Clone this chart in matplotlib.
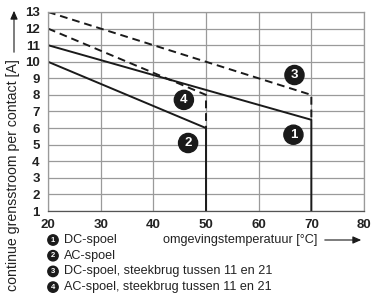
import matplotlib
matplotlib.use("Agg")
import matplotlib.pyplot as plt

plt.rcParams['font.family'] = ['Liberation Sans', 'DejaVu Sans']

# --- data ---
temp_dc = [20, 70, 70]
stroom_dc = [11, 6.5, 1]
temp_ac = [20, 50, 50]
stroom_ac = [10, 6, 1]
temp_dc_brug = [20, 70, 70]
stroom_dc_brug = [13, 8, 6.5]
temp_ac_brug = [20, 50, 50]
stroom_ac_brug = [12, 8, 6]

curve_ids = ['1', '2', '3', '4']
label_x = [66.6, 46.6, 66.8, 45.8]
label_y = [5.6, 5.1, 9.2, 7.7]
legend_labels = ['DC-spoel', 'AC-spoel',
                 'DC-spoel, steekbrug tussen 11 en 21',
                 'AC-spoel, steekbrug tussen 11 en 21']

xticks = [20, 30, 40, 50, 60, 70, 80]
yticks = list(range(1, 14))

W, H = 372, 300
fig = plt.figure(figsize=(W / 100, H / 100), dpi=100)
ax = fig.add_axes([48 / W, (H - 211) / H, (364 - 48) / W, (211 - 12) / H])

ink = '#1a1a1a'
ax.plot(temp_dc, stroom_dc, color=ink, lw=1.4)
ax.plot(temp_ac, stroom_ac, color=ink, lw=1.4)
ax.plot(temp_dc_brug, stroom_dc_brug, color=ink, lw=1.4, dashes=(4, 2.5))
ax.plot(temp_ac_brug, stroom_ac_brug, color=ink, lw=1.4, dashes=(4, 2.5))

for cid, x, y in zip(curve_ids, label_x, label_y):
    ax.text(x, y, cid, ha='center', va='center', color='white', fontsize=9.5,
            fontweight='bold', zorder=5,
            bbox=dict(boxstyle='circle,pad=0.27', fc=ink, ec=ink))

ax.set_xlim(20, 80)
ax.set_ylim(1, 13)
ax.set_xticks(xticks)
ax.set_yticks(yticks)
ax.tick_params(length=0, labelsize=9.5, pad=6)
for lab in ax.get_xticklabels() + ax.get_yticklabels():
    lab.set_fontweight('bold')
    lab.set_color('#222222')
ax.grid(True, color='#9a9a9a', lw=0.9)
for s in ax.spines.values():
    s.set_color('#9a9a9a')
    s.set_linewidth(0.9)
ax.spines['bottom'].set_color('#555555')

# legend with filled circled numbers
for i, (cid, txt) in enumerate(zip(curve_ids, legend_labels)):
    yy = 1 - (240 + i * 15.7) / H
    fig.text(53 / W, yy, cid, ha='center', va='center', color='white',
             fontsize=5.5, fontweight='bold',
             bbox=dict(boxstyle='circle,pad=0.22', fc=ink, ec=ink))
    fig.text(64 / W, yy, txt, ha='left', va='center', fontsize=9.1, color='#222222')

# axis titles with arrows
fig.text(163 / W, 1 - 240 / H, 'omgevingstemperatuur [°C]', ha='left', va='center',
         fontsize=9.1, color='#222222')
fig.add_artist(matplotlib.patches.FancyArrowPatch(
    (322 / W, 1 - 240 / H), (364 / W, 1 - 240 / H), transform=fig.transFigure,
    arrowstyle='-|>,head_length=5,head_width=2.2', color=ink, lw=0.8))

fig.text(13 / W, 1 - 175 / H, 'continue grensstroom per contact [A]', rotation=90,
         ha='center', va='center', fontsize=10.2, color='#222222')
fig.add_artist(matplotlib.patches.FancyArrowPatch(
    (14 / W, 1 - 55 / H), (14 / W, 1 - 8 / H), transform=fig.transFigure,
    arrowstyle='-|>,head_length=5,head_width=2.2', color=ink, lw=0.8))

fig.savefig('out.png', dpi=100)
